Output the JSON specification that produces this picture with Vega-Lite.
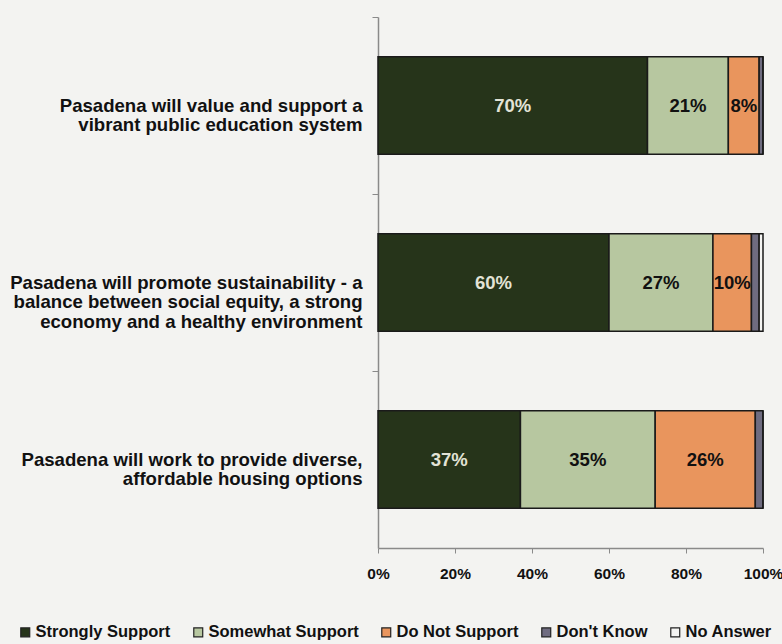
{
  "$schema": "https://vega.github.io/schema/vega-lite/v6.json",
  "autosize": {"type": "none"},
  "width": 385,
  "height": 531,
  "padding": {"left": 378, "top": 17, "right": 19, "bottom": 96},
  "background": "#f3f3f1",
  "config": {
    "view": {"stroke": null},
    "font": "Liberation Sans",
    "axis": {"labelFont": "Liberation Sans", "labelFontWeight": "bold", "labelColor": "#111111", "domainColor": "#8a8a8a", "tickColor": "#8a8a8a", "grid": false, "title": null},
    "legend": {"labelFont": "Liberation Sans", "labelFontWeight": "bold", "labelColor": "#111111"}
  },
  "data": {
    "values": [
      {"question": "Pasadena will value and support a\nvibrant public education system", "response": "Strongly Support", "rank": 1, "pct": 70, "label": "70%"},
      {"question": "Pasadena will value and support a\nvibrant public education system", "response": "Somewhat Support", "rank": 2, "pct": 21, "label": "21%"},
      {"question": "Pasadena will value and support a\nvibrant public education system", "response": "Do Not Support", "rank": 3, "pct": 8, "label": "8%"},
      {"question": "Pasadena will value and support a\nvibrant public education system", "response": "Don't Know", "rank": 4, "pct": 1, "label": ""},
      {"question": "Pasadena will value and support a\nvibrant public education system", "response": "No Answer", "rank": 5, "pct": 0, "label": ""},
      {"question": "Pasadena will promote sustainability - a\nbalance between social equity, a strong\neconomy and a healthy environment", "response": "Strongly Support", "rank": 1, "pct": 60, "label": "60%"},
      {"question": "Pasadena will promote sustainability - a\nbalance between social equity, a strong\neconomy and a healthy environment", "response": "Somewhat Support", "rank": 2, "pct": 27, "label": "27%"},
      {"question": "Pasadena will promote sustainability - a\nbalance between social equity, a strong\neconomy and a healthy environment", "response": "Do Not Support", "rank": 3, "pct": 10, "label": "10%"},
      {"question": "Pasadena will promote sustainability - a\nbalance between social equity, a strong\neconomy and a healthy environment", "response": "Don't Know", "rank": 4, "pct": 2, "label": ""},
      {"question": "Pasadena will promote sustainability - a\nbalance between social equity, a strong\neconomy and a healthy environment", "response": "No Answer", "rank": 5, "pct": 1, "label": ""},
      {"question": "Pasadena will work to provide diverse,\naffordable housing options", "response": "Strongly Support", "rank": 1, "pct": 37, "label": "37%"},
      {"question": "Pasadena will work to provide diverse,\naffordable housing options", "response": "Somewhat Support", "rank": 2, "pct": 35, "label": "35%"},
      {"question": "Pasadena will work to provide diverse,\naffordable housing options", "response": "Do Not Support", "rank": 3, "pct": 26, "label": "26%"},
      {"question": "Pasadena will work to provide diverse,\naffordable housing options", "response": "Don't Know", "rank": 4, "pct": 2, "label": ""},
      {"question": "Pasadena will work to provide diverse,\naffordable housing options", "response": "No Answer", "rank": 5, "pct": 0, "label": ""}
    ]
  },
  "transform": [
    {"stack": "pct", "groupby": ["question"], "sort": [{"field": "rank", "order": "ascending"}], "as": ["x0", "x1"], "offset": "zero"},
    {"calculate": "(datum.x0 + datum.x1) / 2", "as": "xmid"}
  ],
  "encoding": {
    "y": {
      "field": "question", "type": "nominal", "sort": null,
      "scale": {"paddingInner": 0, "paddingOuter": 0},
      "axis": {"labelExpr": "split(datum.label, '\\n')", "labelFontSize": 18.6, "labelLineHeight": 19.5, "tickSize": 6, "labelPadding": 10, "bandPosition": 0, "labelLimit": 400, "domainWidth": 1.5, "labelBaseline": "middle"}
    }
  },
  "layer": [
    {
      "mark": {"type": "bar", "stroke": "#1a1a1a", "strokeWidth": 1.5, "height": {"band": 0.55}},
      "encoding": {
        "x": {"field": "x0", "type": "quantitative", "scale": {"domain": [0, 100], "nice": false},
          "axis": {"values": [0, 20, 40, 60, 80, 100], "labelExpr": "datum.value + '%'", "labelFontSize": 15.5, "tickSize": 5, "labelPadding": 13, "labelFlush": false, "domainWidth": 1.5}},
        "x2": {"field": "x1"},
        "color": {
          "field": "response", "type": "nominal",
          "scale": {"domain": ["Strongly Support", "Somewhat Support", "Do Not Support", "Don't Know", "No Answer"],
                    "range": ["#26341a", "#b7c7a0", "#e9955d", "#6f6c80", "#f4f4f2"]},
          "legend": {"orient": "none", "legendX": -361, "legendY": 607, "direction": "horizontal", "title": null, "symbolType": "square", "symbolSize": 80, "symbolStrokeColor": "#222222", "symbolStrokeWidth": 1.2, "labelFontSize": 16.5, "columnPadding": 19, "labelOffset": 2}
        },
        "order": {"field": "rank"}
      }
    },
    {
      "mark": {"type": "text", "fontSize": 18.5, "fontWeight": "bold", "baseline": "middle", "align": "center"},
      "encoding": {
        "x": {"field": "xmid", "type": "quantitative"},
        "text": {"field": "label"},
        "color": {
          "condition": {"test": "datum.rank == 1", "value": "#e2e3d6"},
          "value": "#111111"
        }
      }
    }
  ]
}
